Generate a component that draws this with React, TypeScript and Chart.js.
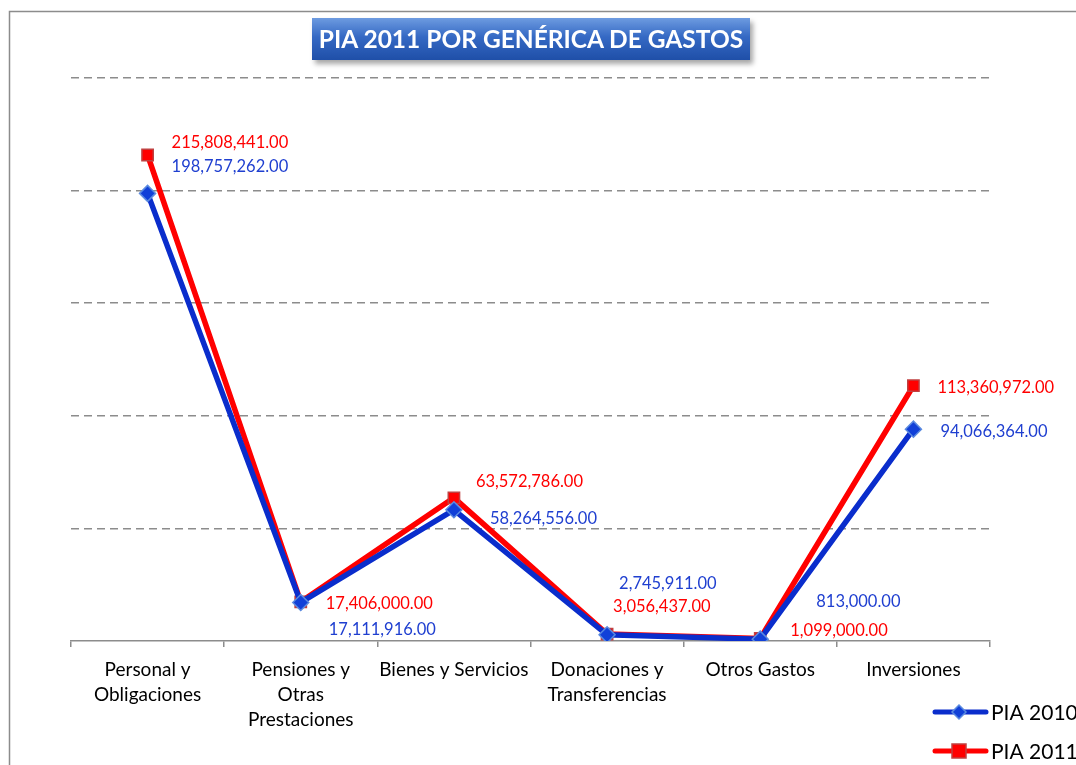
import React, { useEffect, useRef } from "react";
import { Chart, registerables } from "chart.js";

Chart.register(...registerables);

const categories: (string | string[])[] = [
  ["Personal y", "Obligaciones"],
  ["Pensiones y", "Otras", "Prestaciones"],
  "Bienes y Servicios",
  ["Donaciones y", "Transferencias"],
  "Otros Gastos",
  "Inversiones",
];
const pia2010 = [198757262, 17111916, 58264556, 2745911, 813000, 94066364];
const pia2011 = [215808441, 17406000, 63572786, 3056437, 1099000, 113360972];
const seriesNames = ["PIA 2010", "PIA 2011"];
const yMax = 250000000;
const yStep = 50000000;

// label offsets (pixels, relative to each point) - styling only
const labelOffsets2010 = [[24, -27], [28, 27], [36, 9], [12, -51], [56, -37], [27, 3]];
const labelOffsets2011 = [[24, -12], [25, 2], [22, -16], [6, -27], [30, -8], [24, 2]];

const BLUE = "#0a2dcc";
const BLUE_TEXT = "#1f3fd0";
const RED = "#ff0000";
const FONT = "Lato, 'Open Sans', sans-serif";

const fmt = (v: number) =>
  v.toLocaleString("en-US", { minimumFractionDigits: 2, maximumFractionDigits: 2 });

const decorPlugin = {
  id: "decor",
  beforeDraw(chart: any) {
    const ctx = chart.ctx;
    ctx.save();
    ctx.strokeStyle = "#8c8c8c";
    ctx.lineWidth = 1.5;
    ctx.beginPath();
    ctx.moveTo(9.5, 800);
    ctx.lineTo(9.5, 11.5);
    ctx.lineTo(1100, 11.5);
    ctx.stroke();
    ctx.restore();
  },
  afterDraw(chart: any) {
    const ctx = chart.ctx;
    ctx.save();
    ctx.font = `16.5px ${FONT}`;
    ctx.textBaseline = "middle";
    ctx.textAlign = "left";
    const sets = [
      { data: pia2010, offs: labelOffsets2010, color: BLUE_TEXT, idx: 0 },
      { data: pia2011, offs: labelOffsets2011, color: RED, idx: 1 },
    ];
    sets.forEach((s) => {
      const meta = chart.getDatasetMeta(s.idx);
      meta.data.forEach((pt: any, i: number) => {
        ctx.fillStyle = s.color;
        ctx.fillText(fmt(s.data[i]), pt.x + s.offs[i][0], pt.y + s.offs[i][1]);
      });
    });
    // legend
    const items = [
      { name: seriesNames[0], color: BLUE, y: 712, marker: "diamond" },
      { name: seriesNames[1], color: RED, y: 751, marker: "square" },
    ];
    items.forEach((it) => {
      ctx.strokeStyle = it.color;
      ctx.lineWidth = 5;
      ctx.lineCap = "round";
      ctx.beginPath();
      ctx.moveTo(935, it.y);
      ctx.lineTo(986, it.y);
      ctx.stroke();
      if (it.marker === "diamond") {
        ctx.fillStyle = "#1140d8";
        ctx.strokeStyle = "#5a8ae0";
        ctx.lineWidth = 1.5;
        ctx.beginPath();
        ctx.moveTo(959, it.y - 7);
        ctx.lineTo(966, it.y);
        ctx.lineTo(959, it.y + 7);
        ctx.lineTo(952, it.y);
        ctx.closePath();
        ctx.fill();
        ctx.stroke();
      } else {
        ctx.fillStyle = RED;
        ctx.strokeStyle = "#c04040";
        ctx.lineWidth = 1.5;
        ctx.fillRect(952, it.y - 7, 14, 14);
        ctx.strokeRect(952, it.y - 7, 14, 14);
      }
      ctx.fillStyle = "#000";
      ctx.font = `21px ${FONT}`;
      ctx.textBaseline = "middle";
      ctx.fillText(it.name, 991, it.y + 1);
    });
    ctx.restore();
  },
};

export default function App() {
  const ref = useRef<HTMLCanvasElement | null>(null);
  useEffect(() => {
    if (!ref.current) return;
    const chart = new Chart(ref.current, {
      type: "line",
      data: {
        labels: categories,
        datasets: [
          {
            label: seriesNames[0],
            data: pia2010,
            borderColor: BLUE,
            borderWidth: 5.5,
            pointStyle: "rectRot",
            pointRadius: 8,
            pointBackgroundColor: "#1140d8",
            pointBorderColor: "#5a8ae0",
            pointBorderWidth: 1.5,
            tension: 0,
          },
          {
            label: seriesNames[1],
            data: pia2011,
            borderColor: RED,
            borderWidth: 5.5,
            pointStyle: "rect",
            pointRadius: 8,
            pointBackgroundColor: RED,
            pointBorderColor: "#c04040",
            pointBorderWidth: 1.5,
            tension: 0,
          },
        ],
      },
      options: {
        animation: false,
        responsive: false,
        layout: { padding: { left: 71, right: 86, top: 78, bottom: 0 } },
        plugins: { legend: { display: false }, title: { display: false }, tooltip: { enabled: false } },
        scales: {
          x: {
            offset: true,
            grid: {
              offset: true,
              drawOnChartArea: false,
              drawTicks: true,
              tickLength: 6,
              color: "#8c8c8c",
              lineWidth: 1.5,
            },
            border: { display: true, color: "#8c8c8c", width: 1.5 },
            ticks: {
              color: "#000",
              font: { family: FONT, size: 19, lineHeight: 1.32 },
              padding: 10,
              maxRotation: 0,
              autoSkip: false,
            },
            afterFit(scale: any) {
              scale.height = 765 - 641;
            },
          },
          y: {
            min: 0,
            max: yMax,
            ticks: { display: false, stepSize: yStep },
            border: { display: false, dash: [8, 5] },
            grid: {
              drawTicks: false,
              color: (c: any) => (c.tick && c.tick.value === 0 ? "rgba(0,0,0,0)" : "#8c8c8c"),
              lineWidth: 1.5,
            },
            afterFit(scale: any) {
              scale.width = 0;
            },
          },
        },
      },
      plugins: [decorPlugin],
    } as any);
    return () => chart.destroy();
  }, []);

  return (
    <div style={{ position: "absolute", left: 0, top: 0, width: 1076, height: 765, overflow: "hidden", background: "#fff" }}>
      <canvas ref={ref} width={1076} height={765} style={{ display: "block", width: 1076, height: 765 }} />
      <div
        style={{
          position: "absolute",
          left: 312,
          top: 18,
          width: 438,
          height: 42,
          background: "linear-gradient(180deg, #6d9be0 0%, #3569c4 45%, #1f4fa8 100%)",
          boxShadow: "3px 4px 5px rgba(0,0,0,0.35)",
          color: "#fff",
          fontFamily: FONT,
          fontWeight: 700,
          fontSize: 24.5,
          lineHeight: "42px",
          textAlign: "center",
          whiteSpace: "nowrap",
        }}
      >
        PIA 2011 POR GENÉRICA DE GASTOS
      </div>
    </div>
  );
}
